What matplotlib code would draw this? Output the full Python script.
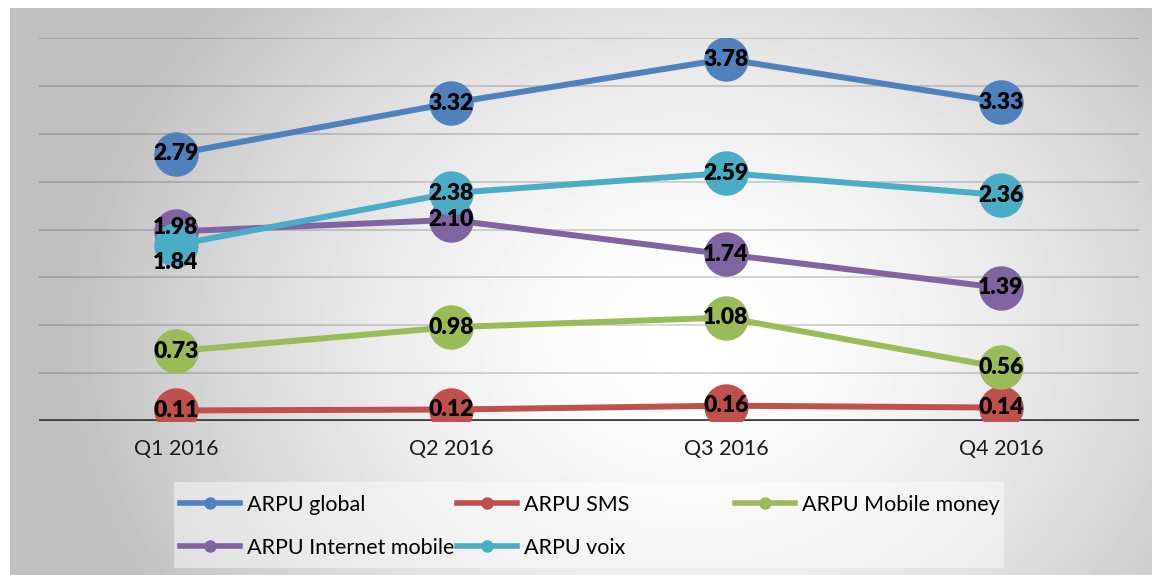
import matplotlib.pyplot as plt
import numpy as np
from matplotlib.lines import Line2D
from matplotlib.patches import Rectangle

plt.rcParams['font.family'] = ['Lato', 'DejaVu Sans']

quarters = ['Q1 2016', 'Q2 2016', 'Q3 2016', 'Q4 2016']

arpu_global = [2.79, 3.32, 3.78, 3.33]
arpu_sms = [0.11, 0.12, 0.16, 0.14]
arpu_mobile_money = [0.73, 0.98, 1.08, 0.56]
arpu_internet = [1.98, 2.10, 1.74, 1.39]
arpu_voix = [1.84, 2.38, 2.59, 2.36]

series = [
    ('ARPU global', arpu_global, '#4F81BD'),
    ('ARPU SMS', arpu_sms, '#C0504D'),
    ('ARPU Mobile money', arpu_mobile_money, '#9BBB59'),
    ('ARPU Internet mobile', arpu_internet, '#8064A2'),
    ('ARPU voix', arpu_voix, '#4BACC6'),
]

# labels nudged off their marker where two points overlap (points)
label_offsets = {('ARPU Internet mobile', 0): (0, 3), ('ARPU voix', 0): (0, -13)}

W, H = 1152, 575
fig = plt.figure(figsize=(W / 100, H / 100), dpi=100)

# radial grey gradient behind the chart
bg = fig.add_axes([10 / W, 0, (W - 10) / W, (H - 8) / H], zorder=-10)
yy, xx = np.mgrid[0:567, 0:1142]
d = np.sqrt(((xx - 680) / 630.0) ** 2 + ((yy - 330) / 520.0) ** 2)
shade = 1.0 - 0.25 * np.clip(d, 0, 1) ** 1.6
bg.imshow(shade, cmap='gray', vmin=0, vmax=1, aspect='auto',
          extent=[0, 1, 0, 1], origin='upper', interpolation='bilinear')
bg.set_axis_off()

ax = fig.add_axes([38.5 / W, 154 / H, 1100 / W, 383 / H])
ax.set_facecolor('none')
x = np.arange(len(quarters))

ax.set_xlim(-0.5, len(quarters) - 0.5)
ax.set_ylim(0, 4)
for g in np.arange(0.5, 4.01, 0.5):
    ax.axhline(g, color='black', alpha=0.17, lw=1.3, zorder=0)
ax.axhline(0, color='#3f3f3f', lw=2.7, zorder=1)

for name, vals, col in series:
    ax.plot(x, vals, '-o', color=col, lw=4.3, ms=32, mew=0, zorder=2,
            solid_capstyle='butt')
for name, vals, col in series:
    for i, v in enumerate(vals):
        off = label_offsets.get((name, i), (0, 0))
        ax.annotate('{:.2f}'.format(v), (i, v), xytext=off,
                    textcoords='offset points', ha='center', va='center',
                    fontsize=16.5, fontweight='heavy', color='black', zorder=5)

ax.set_xticks(x)
ax.set_xticklabels(quarters, fontsize=15.5, color='#1a1a1a')
ax.tick_params(axis='x', length=0, pad=13)
ax.set_yticks([])
for s in ax.spines.values():
    s.set_visible(False)

# legend: light panel, then one entry per slot
fig.patches.append(Rectangle((174 / W, 1 - 568 / H), 830 / W, 86 / H,
                             transform=fig.transFigure, facecolor='white',
                             alpha=0.45, edgecolor='none', zorder=-5))
slots = [(180, 505), (457, 505), (735, 505), (180, 548), (457, 548)]
for (name, vals, col), (px, py) in zip(series, slots):
    h = Line2D([], [], color=col, lw=4, marker='o', ms=9, mew=0)
    fig.legend([h], [name], loc='center left',
               bbox_to_anchor=(px / W, 1 - py / H), frameon=False,
               fontsize=15.5, handlelength=2.8, handletextpad=0.3,
               borderpad=0, borderaxespad=0)

fig.savefig('out.png', dpi=100)
